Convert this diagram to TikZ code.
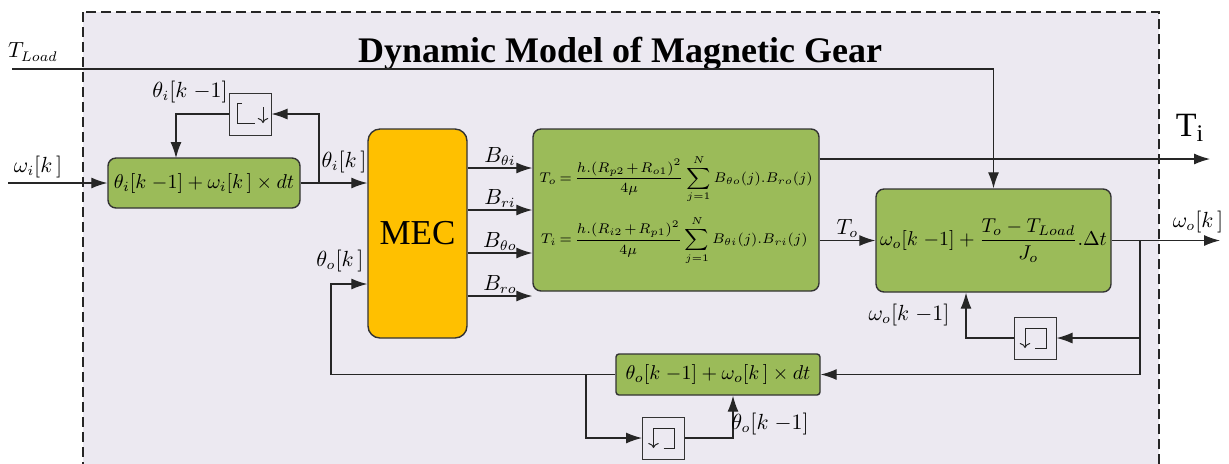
\documentclass[tikz,border=0pt]{standalone}
\usepackage{amsmath}
\usepackage{fontspec}
\setmainfont{Liberation Serif}
\usetikzlibrary{arrows.meta,calc}
\definecolor{gearGreen}{RGB}{155,187,89}
\definecolor{mecOrange}{RGB}{255,192,0}
\definecolor{frameBg}{RGB}{236,233,241}
\tikzset{>={Latex[length=8pt,width=5.5pt]}}
\tikzset{
  blk/.style={draw=black!80, fill=gearGreen, rounded corners=4pt, line width=0.7pt, inner sep=0pt},
  mecblk/.style={draw=black!80, fill=mecOrange, rounded corners=6pt, line width=0.7pt},
  dlyblk/.style={draw=black!80, fill=frameBg, line width=0.5pt, minimum size=21pt, inner sep=0pt},
  sig/.style={line width=0.6pt, draw=black!85},
  icon/.style={line width=0.5pt, draw=black!85},
  lbl/.style={font=\fontsize{10.5}{12}\selectfont, inner sep=1pt},
}

\begin{document}
\begin{tikzpicture}[x=0.5pt, y=-0.5pt]
      \useasboundingbox (0,0) rectangle (1229,463);
      \filldraw[draw=black!85, fill=frameBg, dash pattern=on 5pt off 2.5pt, line width=0.7pt] (83,12) rectangle (1159,480); % outer frame
      \node[font=\fontsize{18}{20}\selectfont\bfseries, anchor=base] (title) at (620,62) {Dynamic Model of Magnetic Gear};
      % blocks
      \node[blk, minimum width=96pt, minimum height=25pt] (thi) at (204,183) {$\theta_i[k\;{-}1]+\omega_i[k\,]\times dt$};
      \node[dlyblk] (dly1) at (250,114) {};
      \node[mecblk, minimum width=49.5pt, minimum height=104.5pt, font=\fontsize{17.5}{20}\selectfont] (mec) at (417.5,233.5) {MEC};
      \node[blk, minimum width=143pt, minimum height=81pt, font=\fontsize{7.5}{9}\selectfont] (tq) at (676,210) {$\medmuskip=2mu \thickmuskip=3mu \begin{aligned}
          T_o &= \frac{h.(R_{p2}+R_{o1})^2}{4\mu}\sum_{j=1}^{N} B_{\theta o}(j).B_{ro}(j)\\[2pt]
          T_i &= \frac{h.(R_{i2}+R_{p1})^2}{4\mu}\sum_{j=1}^{N} B_{\theta i}(j).B_{ri}(j)
        \end{aligned}$};
      \node[blk, minimum width=117.5pt, minimum height=51.5pt] (wo) at (993.5,240.5) {$\omega_o[k\;{-}1]+\dfrac{T_o-T_{Load}}{J_o}.\Delta t$};
      \node[dlyblk] (dly2) at (1035,338) {};
      \node[blk, rounded corners=1.5pt, minimum width=102pt, minimum height=20.5pt] (tho) at (718,374.5) {$\theta_o[k\;{-}1]+\omega_o[k\,]\times dt$};
      \node[dlyblk] (dly3) at (663.5,438) {};
      % delay icons
      \draw[icon] ([shift={(-8,-11)}]dly1.center) -- ++(-5,0) -- ++(0,20) -- ++(18,0);
      \draw[icon, -{To[length=2.5pt]}] ([shift={(13,-7)}]dly1.center) -- ++(0,16);
      \foreach \d in {dly2,dly3} {
        \draw[icon] ([shift={(0,10)}]\d.center) -- ++(11,0) -- ++(0,-20) -- ++(-21,0);
        \draw[icon, -{To[length=2.5pt]}] ([shift={(-10,-10)}]\d.center) -- ++(0,20);
      }
      % free ends and branch points
      \coordinate (wiIn) at (8,183);
      \coordinate (tlIn) at (12,69);
      \coordinate (br1) at (319,183);
      \coordinate (thiTop) at (176,158);
      \coordinate (tiOut) at (1210,159);
      \coordinate (woOut) at (1220,240.5);
      \coordinate (br2) at (1140,240.5);
      \coordinate (fbL) at (331,374.5);
      \coordinate (br3) at (586,374.5);
      % connectors
      \draw[sig,->] (wiIn) -- (thi.west);
      \draw[sig,->] (thi.east) -- (thi.east -| mec.west);
      \draw[sig,->] (br1) |- (dly1.east);
      \draw[sig,->] (dly1.west) -| (thiTop);
      \draw[sig,->] (tlIn) -| (wo.north);
      \foreach \s/\t in {32.75pt/{B_{\theta i}}, 11.75pt/{B_{ri}}, -9.75pt/{B_{\theta o}}, -31.25pt/{B_{ro}}}
        \draw[sig,->] ([yshift=\s]mec.east) -- ([yshift=\s]mec.east -| tq.west) node[lbl, midway, above] {$\t$};
      \draw[sig,->] (tho.west) -- (fbL) |- ([yshift=-25.25pt]mec.west);
      \draw[sig,->] (br3) |- (dly3.west);
      \draw[sig,->] (dly3.east) -| ([xshift=7.5pt]tho.south);
      \draw[sig,->] (tq.east |- wo.west) -- (wo.west) node[lbl, midway, above] {$T_o$};
      \draw[sig,->] ([yshift=25.5pt]tq.east) -- (tiOut);
      \draw[sig,->] (wo.east) -- (woOut);
      \draw[sig,->] (br2) |- (tho.east);
      \draw[sig,->] (br2 |- dly2.east) -- (dly2.east);
      \draw[sig,->] (dly2.west) -| ([xshift=-13.75pt]wo.south);
      % labels
      \node[lbl] (tlLbl) at (33,52) {$T_{Load}$};
      \node[lbl] (wiLbl) at (38,167) {$\omega_i[k\,]$};
      \node[lbl] (thiOld) at (190,92) {$\theta_i[k\;{-}1]$};
      \node[lbl] (thiLbl) at (344,162) {$\theta_i[k\,]$};
      \node[lbl] (thoLbl) at (340,261) {$\theta_o[k\,]$};
      \node[font=\fontsize{17}{20}\selectfont] (tiLbl) at (1190,128) {T$_{\mathrm{i}}$};
      \node[lbl] (woLbl) at (1198,222) {$\omega_o[k\,]$};
      \node[lbl] (woOld) at (909,315) {$\omega_o[k\;{-}1]$};
      \node[lbl] (thoOld) at (770,424) {$\theta_o[k\;{-}1]$};
    \end{tikzpicture}
\end{document}
